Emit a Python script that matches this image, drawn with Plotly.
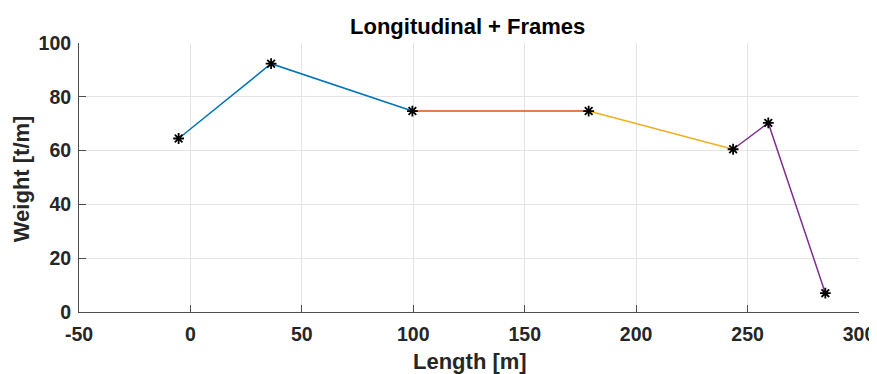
import plotly.graph_objects as go

# Data
seg_x = [[-5.3, 36.2, 99.6], [99.6, 178.7], [178.7, 243.5], [243.5, 259.3, 284.9]]
seg_y = [[64.5, 92.3, 74.7], [74.7, 74.7], [74.7, 60.5], [60.5, 70.3, 7.0]]
seg_colors = ["#0072BD", "#D95319", "#EDB120", "#7E2F8E"]
pts_x = [-5.3, 36.2, 99.6, 178.7, 243.5, 259.3, 284.9]
pts_y = [64.5, 92.3, 74.7, 74.7, 60.5, 70.3, 7.0]

x_ticks = [-50, 0, 50, 100, 150, 200, 250, 300]
y_ticks = [0, 20, 40, 60, 80, 100]

FONT = "Liberation Sans, Arial, Helvetica, sans-serif"
TXT = "#262626"

fig = go.Figure()
for xs, ys, c in zip(seg_x, seg_y, seg_colors):
    fig.add_trace(go.Scatter(x=xs, y=ys, mode="lines",
                             line=dict(color=c, width=1.5), showlegend=False))
fig.add_trace(go.Scatter(x=pts_x, y=pts_y, mode="markers",
                         marker=dict(symbol="asterisk", size=9, color="black",
                                     line=dict(color="black", width=1.8)),
                         showlegend=False))

# page body has an 8px margin, so the figure is drawn from (8, 8)
fig.update_layout(
    width=869, height=366,
    margin=dict(l=71, r=18, t=35, b=62, autoexpand=False),
    paper_bgcolor="white", plot_bgcolor="white",
    font=dict(family=FONT, color=TXT),
    title=dict(text="<b>Longitudinal + Frames</b>", x=0.529, xanchor="center",
               xref="container", y=0.951, yanchor="middle", yref="container",
               font=dict(size=22, color="black", family=FONT)),
    annotations=[
        dict(text="<b>Length [m]</b>", xref="paper", yref="paper",
             x=0.501, y=-0.183, xanchor="center", yanchor="middle",
             showarrow=False, font=dict(size=22, color=TXT, family=FONT)),
        dict(text="<b>Weight [t/m]</b>", xref="paper", yref="paper",
             x=-0.0744, y=0.497, xanchor="center", yanchor="middle", textangle=-90,
             showarrow=False, font=dict(size=22, color=TXT, family=FONT)),
    ],
)
fig.update_xaxes(
    range=[-50, 300], tickvals=x_ticks, ticktext=[f"<b>{v}</b>" for v in x_ticks],
    tickfont=dict(size=19.5, color=TXT, family=FONT), automargin=False,
    showgrid=True, gridcolor="#e4e4e4", gridwidth=1, zeroline=False,
    showline=True, linecolor="#4d4d4d", linewidth=1, mirror=False,
    ticks="inside", ticklen=7, tickcolor="#4d4d4d", ticklabelstandoff=5,
)
fig.update_yaxes(
    range=[0, 100], tickvals=y_ticks, ticktext=[f"<b>{v}</b>" for v in y_ticks],
    tickfont=dict(size=19.5, color=TXT, family=FONT), automargin=False,
    showgrid=True, gridcolor="#e4e4e4", gridwidth=1, zeroline=False,
    showline=True, linecolor="#4d4d4d", linewidth=1, mirror=False,
    ticks="inside", ticklen=7, tickcolor="#4d4d4d", ticklabelstandoff=3,
)

fig.write_html("out.html")
